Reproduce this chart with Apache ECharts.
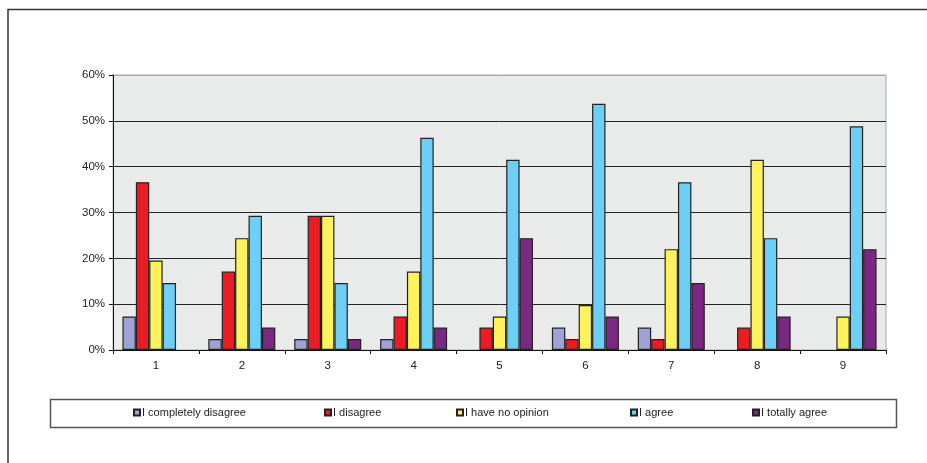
<!DOCTYPE html>
<html>
<head>
<meta charset="utf-8">
<script src="https://cdn.jsdelivr.net/npm/echarts@6/dist/echarts.min.js"></script>
<style>html,body{margin:0;padding:0;background:#fff;}#c{width:927px;height:463px;}</style>
</head>
<body>
<div id="c"></div>
<script>
const categories = ['1','2','3','4','5','6','7','8','9'];
const seriesNames = ['I completely disagree','I disagree','I have no opinion','I agree','I totally agree'];
const completelyDisagree = [7.3, 2.4, 2.4, 2.4, null, 4.9, 4.9, null, null];
const disagree = [36.6, 17.1, 29.3, 7.3, 4.9, 2.4, 2.4, 4.9, null];
const noOpinion = [19.5, 24.4, 29.3, 17.1, 7.3, 9.8, 22.0, 41.5, 7.3];
const agree = [14.6, 29.3, 14.6, 46.3, 41.5, 53.7, 36.6, 24.4, 48.8];
const totallyAgree = [null, 4.9, 2.4, 4.9, 24.4, 7.3, 14.6, 7.3, 22.0];
const yTicks = [0, 10, 20, 30, 40, 50, 60];

const values = [completelyDisagree, disagree, noOpinion, agree, totallyAgree];
const colors = ['#9DA3D4', '#ED1C24', '#FFF25C', '#6DCFF6', '#7B2883'];
const legendX = [133, 324, 456, 630, 752];

const chart = echarts.init(document.getElementById('c'), null, {renderer: 'canvas'});
const font = 'Liberation Sans, Arial, sans-serif';
chart.setOption({
  animation: false,
  backgroundColor: '#fff',
  textStyle: {fontFamily: font},
  graphic: [
    {type: 'polyline', shape: {points: [[8, 470], [8, 9.5], [930, 9.5]]}, style: {stroke: '#333', lineWidth: 1.5, fill: null}},
    {type: 'rect', shape: {x: 50.5, y: 399.5, width: 846, height: 28}, style: {stroke: '#555', lineWidth: 1.5, fill: null}, z: 0}
  ],
  legend: seriesNames.map((n, i) => ({
    data: [n], left: legendX[i], top: 407, itemWidth: 6, itemHeight: 6, itemGap: 0,
    icon: 'rect', padding: 0,
    textStyle: {fontSize: 11, color: '#222', fontFamily: font, padding: [0, 0, 0, -3]}
  })),
  grid: {left: 113, right: 41, top: 75, bottom: 113, show: true, backgroundColor: '#E9EAEA', borderColor: '#AAA', borderWidth: 1},
  xAxis: {
    type: 'category', data: categories,
    axisLine: {lineStyle: {color: '#111', width: 1}},
    axisTick: {show: true, length: 4, lineStyle: {color: '#111'}},
    axisLabel: {fontSize: 11.5, color: '#222', margin: 10, fontFamily: font}
  },
  yAxis: {
    type: 'value', min: yTicks[0], max: yTicks[yTicks.length - 1], interval: 10,
    axisLine: {show: true, lineStyle: {color: '#111', width: 1}},
    axisTick: {show: true, length: 4, inside: false, lineStyle: {color: '#111'}},
    axisLabel: {formatter: '{value}%', fontSize: 11.5, color: '#222', margin: 8, fontFamily: font},
    splitLine: {show: true, lineStyle: {color: ['#222', '#222', '#222', '#222', '#222', '#222', '#AAA'], width: 1}}
  },
  series: seriesNames.map((n, i) => ({
    name: n, type: 'bar', data: values[i],
    barGap: '0%', barCategoryGap: '22%',
    itemStyle: {color: colors[i], borderColor: '#222', borderWidth: 1.2}
  }))
});
</script>
</body>
</html>
